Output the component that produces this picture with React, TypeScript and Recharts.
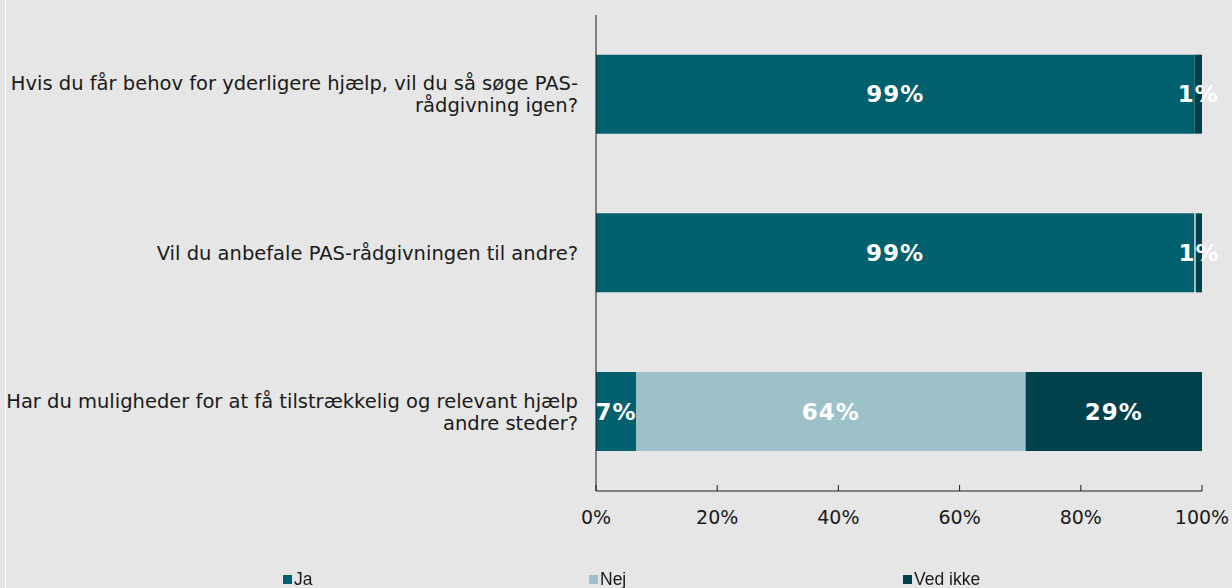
import { Bar, BarChart, LabelList, Legend, XAxis, YAxis } from "recharts";

const questions = [
  "Hvis du får behov for yderligere hjælp, vil du så søge PAS-\nrådgivning igen?",
  "Vil du anbefale PAS-rådgivningen til andre?",
  "Har du muligheder for at få tilstrækkelig og relevant hjælp\nandre steder?"
];
const ja = [98.8, 98.7, 6.6];
const nej = [0, 0.3, 64.3];
const vedIkke = [1.2, 1.0, 29.1];
const xTicks = [0, 20, 40, 60, 80, 100];

const seriesList = [
  { key: "ja", name: "Ja", color: "#00606e" },
  { key: "nej", name: "Nej", color: "#9cc1c8" },
  { key: "vedIkke", name: "Ved ikke", color: "#00414c" }
];

const data = questions.map((q, i) => ({
  q,
  ja: ja[i],
  nej: nej[i],
  vedIkke: vedIkke[i]
}));

const FONT = "'DejaVu Sans', Verdana, sans-serif";
const legendWidths = [306, 314, 200];

function QuestionTick({ x, y, payload }: any) {
  const lines = String(payload.value).split("\n");
  const lh = 22;
  const y0 = y - ((lines.length - 1) * lh) / 2;
  return (
    <text
      x={x}
      y={y0}
      textAnchor="end"
      fill="#1a1a1a"
      fontSize={19.5}
      fontFamily={FONT}
      dominantBaseline="central"
    >
      {lines.map((l, i) => (
        <tspan key={i} x={x} y={y0 + i * lh}>
          {l}
        </tspan>
      ))}
    </text>
  );
}

function LegendRow() {
  return (
    <div
      style={{
        display: "flex",
        paddingLeft: 283,
        paddingTop: 8,
        fontFamily: "'Liberation Sans Narrow', 'Liberation Sans', sans-serif",
        fontSize: 17.5,
        color: "#1a1a1a"
      }}
    >
      {seriesList.map((s, i) => (
        <div key={s.key} style={{ width: legendWidths[i], display: "flex", alignItems: "center" }}>
          <span style={{ width: 9, height: 9, background: s.color, display: "inline-block", marginRight: 2 }} />
          <span>{s.name}</span>
        </div>
      ))}
    </div>
  );
}

const pct = (v: any) => {
  const n = Math.round(Number(v));
  return n >= 1 ? `${n}%` : "";
};

export default function App() {
  return (
    <div style={{ position: "fixed", left: 0, top: 0, width: 1232, height: 588, background: "#e6e6e6" }}>
      <div style={{ position: "absolute", left: 5, top: 0, width: 1, height: 588, background: "#ffffff" }} />
      <BarChart
        width={1232}
        height={588}
        data={data}
        layout="vertical"
        margin={{ top: 15, right: 30, bottom: 0, left: 0 }}
        barCategoryGap="25%"
      >
        <XAxis
          type="number"
          domain={[0, 100]}
          ticks={xTicks}
          tickFormatter={(v) => `${v}%`}
          axisLine={{ stroke: "#1a1a1a" }}
          tickLine={{ stroke: "#1a1a1a" }}
          tickSize={-6}
          tickMargin={26}
          tick={{ fontSize: 19, fill: "#1a1a1a", fontFamily: FONT }}
          height={70}
        />
        <YAxis
          type="category"
          dataKey="q"
          width={596}
          tick={<QuestionTick />}
          axisLine={{ stroke: "#1a1a1a" }}
          tickLine={false}
          tickMargin={12}
        />
        <Legend verticalAlign="bottom" height={27} content={<LegendRow />} />
        {seriesList.map((s) => (
          <Bar key={s.key} dataKey={s.key} name={s.name} stackId="a" fill={s.color} isAnimationActive={false}>
            <LabelList
              dataKey={s.key}
              position="center"
              formatter={pct}
              fill="#ffffff"
              fontSize={23}
              fontWeight="bold"
              fontFamily={FONT}
              style={{ letterSpacing: 1 }}
            />
          </Bar>
        ))}
      </BarChart>
    </div>
  );
}
